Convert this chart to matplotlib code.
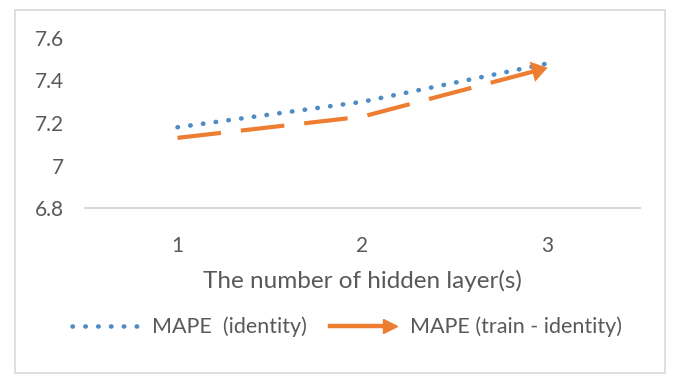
import matplotlib
matplotlib.use("Agg")
import matplotlib.pyplot as plt
from matplotlib.lines import Line2D
from matplotlib.legend_handler import HandlerBase
from matplotlib.patches import Rectangle

# Data
layers = [1, 2, 3]
layer_labels = ["1", "2", "3"]
mape_identity = [7.18, 7.30, 7.48]
mape_train_identity = [7.13, 7.23, 7.46]
y_ticks = [6.8, 7.0, 7.2, 7.4, 7.6]
y_tick_labels = ["6.8", "7", "7.2", "7.4", "7.6"]
series_names = ["MAPE  (identity)", "MAPE (train - identity)"]

BLUE = "#4f8cc4"
ORANGE = "#ed7d31"
TEXT = "#595959"
GRID = "#d9d9d9"

DOTTED = (0, (0.1, 2.7))
DASHED = (0, (10.5, 4.8))

plt.rcParams["font.family"] = ["Lato", "DejaVu Sans"]

fig = plt.figure(figsize=(6.73, 3.77), dpi=100)
fig.patch.set_facecolor("white")

# chart frame
fig.patches.append(Rectangle((15 / 673, 1 - 373 / 377), 650 / 673, 363 / 377,
                             transform=fig.transFigure, fill=False,
                             edgecolor="#d9d9d9", linewidth=1.2))

ax = fig.add_axes([85 / 673, 1 - 208 / 377, 555 / 673, 170 / 377])

ax.plot(layers, mape_identity, color=BLUE, linestyle=DOTTED,
        linewidth=3.3, dash_capstyle="round")
ax.plot(layers, mape_train_identity, color=ORANGE, linestyle=DASHED,
        linewidth=3.0)

# arrow head at the final point of the orange series
ax.annotate("", xy=(layers[-1], mape_train_identity[-1]),
            xytext=(layers[-2] + 0.9 * (layers[-1] - layers[-2]),
                    mape_train_identity[-2] + 0.9 * (mape_train_identity[-1] - mape_train_identity[-2])),
            arrowprops=dict(arrowstyle="-|>,head_length=0.75,head_width=0.5",
                            color=ORANGE, lw=0, mutation_scale=15,
                            shrinkA=0, shrinkB=0))

ax.set_xlim(0.5, 3.5)
ax.set_ylim(6.8, 7.6)
ax.set_xticks(layers)
ax.set_xticklabels(layer_labels)
ax.set_yticks(y_ticks)
ax.set_yticklabels(y_tick_labels)

for s in ["left", "top", "right"]:
    ax.spines[s].set_visible(False)
ax.spines["bottom"].set_color(GRID)
ax.spines["bottom"].set_linewidth(1.5)
ax.tick_params(axis="both", length=0, colors=TEXT, labelsize=15)
ax.tick_params(axis="x", pad=20)
ax.tick_params(axis="y", pad=15)

ax.set_xlabel("The number of hidden layer(s)", fontsize=17.5, color=TEXT, labelpad=10)


class ArrowLineHandler(HandlerBase):
    def create_artists(self, legend, orig_handle, xdescent, ydescent,
                       width, height, fontsize, trans):
        y = height / 2 - ydescent
        line = Line2D([-xdescent, width - xdescent - 7], [y, y],
                      color=orig_handle.get_color(), linewidth=3.2,
                      transform=trans)
        head = Line2D([width - xdescent - 5], [y], marker=">", markersize=10,
                      color=orig_handle.get_color(), linestyle="none",
                      transform=trans)
        return [line, head]


h1 = Line2D([], [], color=BLUE, linestyle=DOTTED, linewidth=3.3,
            dash_capstyle="round")
h2 = Line2D([], [], color=ORANGE, linewidth=3.2)
leg = fig.legend([h1, h2], series_names, loc="center",
                 bbox_to_anchor=(347 / 673, 1 - 327 / 377), ncol=2,
                 frameon=False, fontsize=15.5, handlelength=3.1,
                 handletextpad=0.65, columnspacing=1.05,
                 handler_map={h2: ArrowLineHandler()})
for t in leg.get_texts():
    t.set_color(TEXT)

fig.savefig("out.png", dpi=100, facecolor="white")
